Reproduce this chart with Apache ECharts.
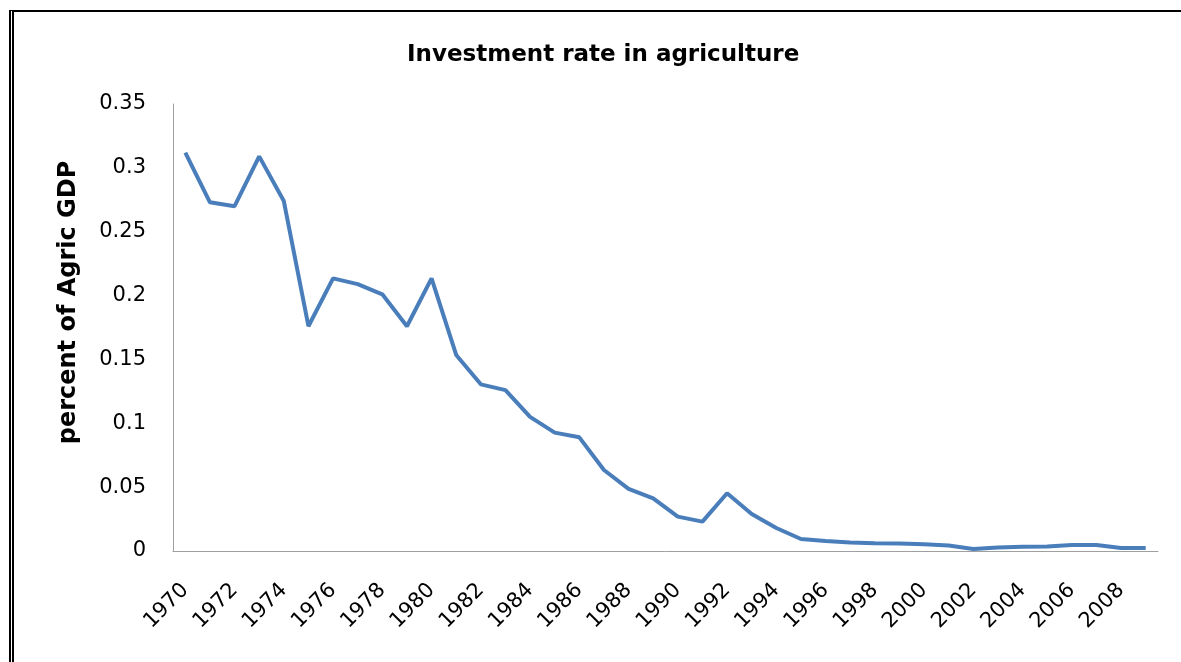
<!DOCTYPE html>
<html>
<head>
<meta charset="utf-8">
<script src="https://cdn.jsdelivr.net/npm/echarts@6/dist/echarts.min.js"></script>
<style>
  html, body { margin: 0; padding: 0; background: #fff; }
  #chart { width: 1181px; height: 662px; }
  .frame {
    position: absolute; left: 9px; top: 10px; width: 1200px; height: 700px;
    border-top: 2px solid #000; border-left: 5px double #000;
    pointer-events: none;
  }
</style>
</head>
<body>
<div id="chart"></div>
<div class="frame"></div>
<script>
  var years = [];
  for (var y = 1970; y <= 2009; y++) years.push(String(y));

  var investRate = [
    0.312, 0.273, 0.270, 0.309, 0.274, 0.176, 0.2135, 0.209, 0.201, 0.176,
    0.2135, 0.1535, 0.1305, 0.126, 0.105, 0.0927, 0.089, 0.0634, 0.0486, 0.0412,
    0.0269, 0.023, 0.0452, 0.029, 0.018, 0.0094, 0.0078, 0.0066, 0.006, 0.0059,
    0.0052, 0.0043, 0.0016, 0.0027, 0.0034, 0.0035, 0.0047, 0.0047, 0.0024, 0.0024
  ];

  var chart = echarts.init(document.getElementById('chart'));
  chart.setOption({
    animation: false,
    title: {
      text: 'Investment rate in agriculture',
      left: 402,
      top: 39,
      textStyle: { fontFamily: 'DejaVu Sans', fontWeight: 'bold', fontSize: 23, color: '#000' }
    },
    grid: { left: 173, right: 23, top: 104, bottom: 111 },
    xAxis: {
      type: 'category',
      data: years,
      boundaryGap: true,
      axisLine: { lineStyle: { color: '#a0a0a0', width: 1 } },
      axisTick: { show: false },
      axisLabel: {
        interval: 1,
        rotate: 45,
        margin: 36,
        color: '#000',
        fontFamily: 'DejaVu Sans',
        fontSize: 21
      }
    },
    yAxis: {
      type: 'value',
      min: 0,
      max: 0.35,
      interval: 0.05,
      name: 'percent of Agric GDP',
      nameLocation: 'middle',
      nameGap: 92,
      nameTextStyle: {
        fontFamily: 'DejaVu Sans', fontWeight: 'bold', fontSize: 24, color: '#000',
        padding: [0, 0, 0, 50]
      },
      axisLine: { show: true, lineStyle: { color: '#a0a0a0', width: 1 } },
      axisTick: { show: false },
      splitLine: { show: false },
      axisLabel: {
        margin: 27,
        color: '#000',
        fontFamily: 'DejaVu Sans',
        fontSize: 21,
        formatter: function (v) { return String(+v.toFixed(2)); }
      }
    },
    series: [{
      type: 'line',
      data: investRate,
      symbol: 'none',
      lineStyle: { color: '#4a7ebb', width: 4 }
    }]
  });
</script>
</body>
</html>
